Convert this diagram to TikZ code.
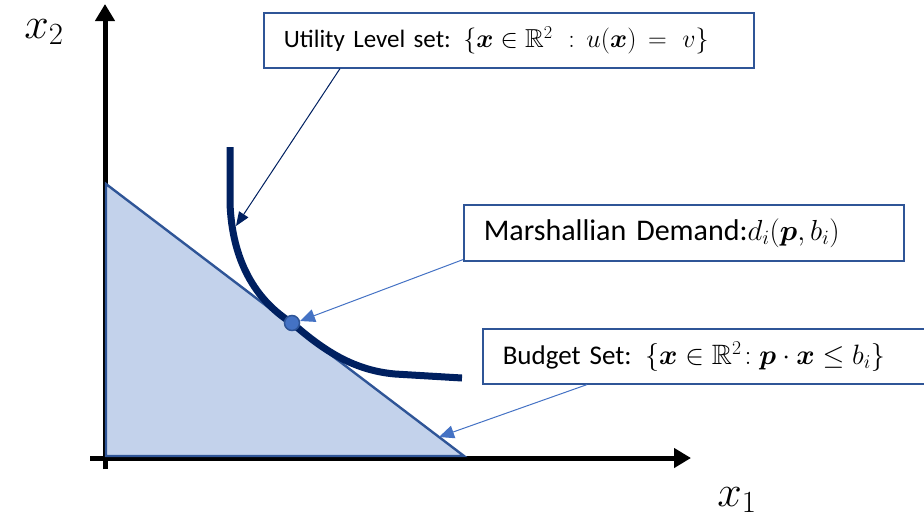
\RequirePackage{fix-cm}
\documentclass[tikz,border=0pt]{standalone}
\usepackage{amsmath,amssymb}
\usepackage{fontspec}
\setmainfont{Carlito}
\usetikzlibrary{arrows.meta}
\definecolor{navy}{HTML}{002060}
\definecolor{boxblue}{HTML}{2F5597}
\definecolor{arrblue}{HTML}{4472C4}
\definecolor{setfill}{HTML}{C3D2EB}
\tikzset{
  infobox/.style={draw=boxblue, line width=1.6pt, fill=white, anchor=north west,
    align=left, inner xsep=20pt, inner ysep=0pt},
  axisline/.style={line width=5pt, -{Triangle[length=17pt,width=19pt]}},
  pointer/.style={arrblue, line width=1pt, -{Triangle[length=15pt,width=13pt]}},
  axlabel/.style={font=\fontsize{44}{50}\selectfont, inner sep=0pt}
}
\newcommand{\mymath}[2]{{\fontsize{#1}{#1}\selectfont$#2$}}
\begin{document}
\begin{tikzpicture}[x=1pt,y=-1pt]
\useasboundingbox (0,0) rectangle (924,528);
% axes
\coordinate (yb) at (105,469);
\coordinate (yt) at (105,4);
\coordinate (xl) at (90,458);
\coordinate (xr) at (691,458);
\draw[axisline] (yb) -- (yt);
\draw[axisline] (xl) -- (xr);
\node[axlabel] (lx2) at (44,32) {$x_2$};
\node[axlabel] (lx1) at (737,500) {$x_1$};
% budget set
\coordinate (ta) at (106,184);
\coordinate (tb) at (106,456);
\coordinate (tc) at (464,456);
\draw[boxblue, line width=2.4pt, fill=setfill, line join=miter] (ta) -- (tb) -- (tc) -- cycle;
% indifference curve
\coordinate (c0) at (230,147);
\coordinate (c1) at (230,203);
\coordinate (dem) at (292,323);
\coordinate (c3) at (395,374);
\coordinate (c4) at (462,378);
\draw[navy, line width=7pt] (c0) -- (c1) .. controls (232,260) and (255,300) .. (dem)
   .. controls (320,347) and (350,370) .. (c3) -- (c4);
\node[circle, fill=arrblue, draw=boxblue, line width=1.5pt, minimum size=15pt, inner sep=0pt] (dot) at (dem) {};
% boxes
\node[infobox, minimum width=490pt, minimum height=55pt, text width=450pt,
  font=\fontsize{25}{28}\selectfont] (util) at (263,12)
  {Utility Level set: \mymath{26}{\{\boldsymbol{x}\in\mathbb{R}^2\ :\,u(\boldsymbol{x})\,=\ v\}}};
\node[infobox, minimum width=440pt, minimum height=56pt, text width=400pt,
  font=\fontsize{30}{34}\selectfont] (mars) at (463,204)
  {Marshallian Demand:\mymath{29}{d_i(\boldsymbol{p},b_i)}};
\node[infobox, minimum width=460pt, minimum height=55pt, text width=420pt,
  font=\fontsize{27}{30}\selectfont] (budg) at (482,328)
  {Budget Set: \mymath{28}{\{\boldsymbol{x}\in\mathbb{R}^2\!:\boldsymbol{p}\cdot\boldsymbol{x}\le b_i\}}};
% pointers
\coordinate (utip) at (236,226);
\coordinate (mtip) at (300,321);
\coordinate (btip) at (439,437);
\draw[navy, line width=1pt, -{Triangle[length=14pt,width=11pt]}] (util.south west) ++(77,0) coordinate (us) (us) -- (utip);
\draw[pointer] (mars.south west) ++(0,-2) coordinate (ms) (ms) -- (mtip);
\draw[pointer] (budg.south west) ++(105,0) coordinate (bs) (bs) -- (btip);
\end{tikzpicture}
\end{document}
